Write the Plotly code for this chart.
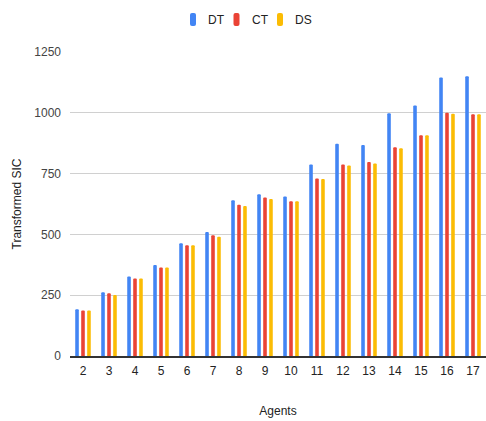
import plotly.graph_objects as go

agents = [str(n) for n in range(2, 18)]
dt = [192, 262, 327, 374, 464, 510, 640, 665, 656, 787, 873, 868, 998, 1030, 1145, 1150]
ct = [187, 258, 319, 364, 455, 496, 622, 652, 636, 730, 787, 798, 858, 908, 1000, 994]
ds = [187, 251, 319, 364, 455, 490, 617, 646, 636, 728, 783, 792, 854, 908, 996, 994]

series = [("DT", dt, "#4285F4"), ("CT", ct, "#EA4335"), ("DS", ds, "#FBBC04")]

W, H = 486, 421
ML, MR, MT, MB = 70, 0, 52, 65
PW, PH = W - ML - MR, H - MT - MB


def px_x(px):
    return (px - ML) / PW


def px_y(py):
    return (H - MB - py) / PH


def pill(w, h, r):
    # rounded rectangle path (pixels, centred on the anchor)
    x0, x1, y0, y1 = -w / 2, w / 2, -h / 2, h / 2
    return (f"M{x0 + r},{y0} L{x1 - r},{y0} Q{x1},{y0} {x1},{y0 + r} "
            f"L{x1},{y1 - r} Q{x1},{y1} {x1 - r},{y1} L{x0 + r},{y1} "
            f"Q{x0},{y1} {x0},{y1 - r} L{x0},{y0 + r} Q{x0},{y0} {x0 + r},{y0} Z")


fig = go.Figure()
for name, vals, color in series:
    fig.add_trace(go.Bar(x=agents, y=vals, name=name, marker_color=color,
                         marker_line_width=0))

# legend row: coloured pill + label for each series
legend_y = px_y(19.5)
for i, (name, _, color) in enumerate(series):
    cx = 193 + i * 43.5
    fig.add_shape(type="path", xref="paper", yref="paper",
                  xsizemode="pixel", ysizemode="pixel",
                  xanchor=px_x(cx), yanchor=legend_y,
                  path=pill(6, 13, 2), fillcolor=color, line_width=0)
    fig.add_annotation(x=px_x(cx + 13), y=legend_y, xref="paper", yref="paper",
                       text=name, showarrow=False, xanchor="left", yanchor="middle",
                       font=dict(size=12, color="#222"))

fig.update_layout(
    width=W, height=H,
    margin=dict(l=ML, r=MR, t=MT, b=MB),
    paper_bgcolor="white", plot_bgcolor="white",
    font=dict(family="Liberation Sans, Arial, sans-serif", size=12, color="#222"),
    barmode="group", bargap=0.31, bargroupgap=0.4, barcornerradius=2,
    showlegend=False,
)
fig.update_xaxes(
    showgrid=False, showline=True, linecolor="#333", linewidth=1.5,
    ticks="", tickfont=dict(size=12, color="#222"), ticklabelstandoff=3,
    title=dict(text="Agents", font=dict(size=12, color="#222"), standoff=29),
)
fig.update_yaxes(
    range=[0, 1250], tickvals=[0, 250, 500, 750, 1000, 1250],
    showgrid=True, gridcolor="#d0d0d0", gridwidth=1, zeroline=False,
    tickfont=dict(size=12, color="#444"), ticklabelstandoff=8,
    title=dict(text="Transformed SIC", font=dict(size=12, color="#222"),
               standoff=10),
)

fig.write_html("out.html")
